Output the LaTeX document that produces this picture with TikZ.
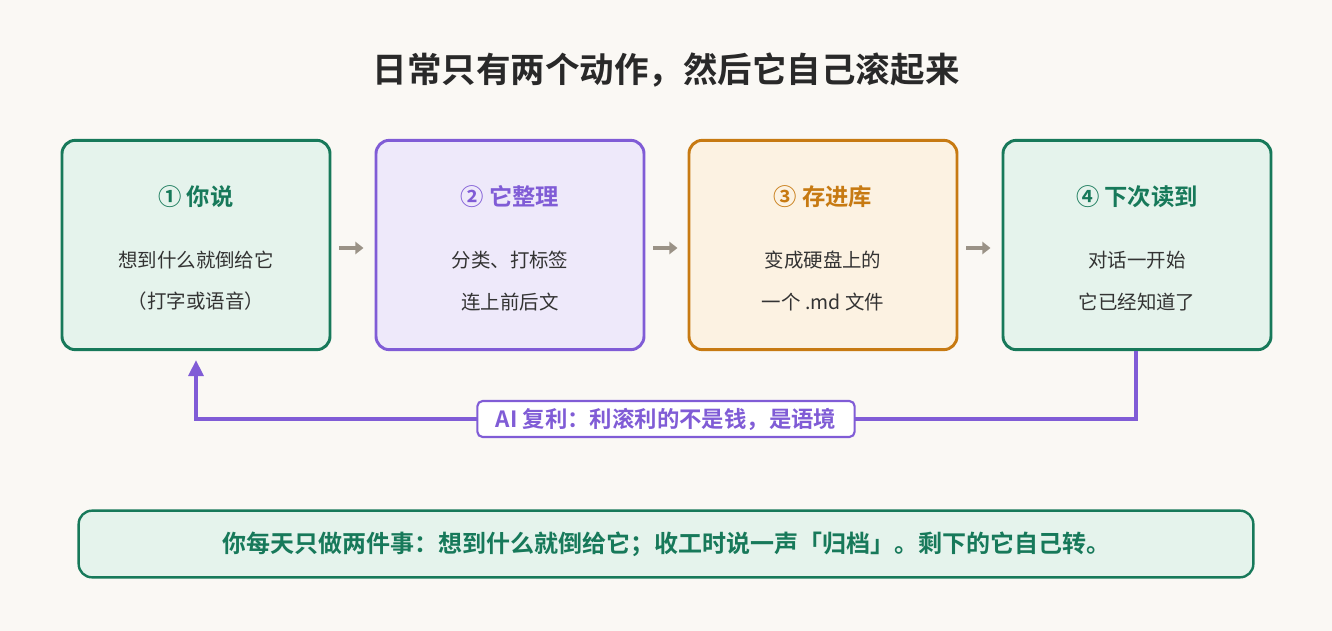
\documentclass[tikz,border=0pt]{standalone}
\usepackage{fontspec}
\setmainfont{Noto Sans CJK SC}[BoldFont={* Bold}]
\usetikzlibrary{arrows.meta,positioning}
\definecolor{bg}{HTML}{FAF8F4}
\definecolor{gline}{HTML}{17795A}
\definecolor{gfill}{HTML}{E5F3EC}
\definecolor{pline}{HTML}{805CD6}
\definecolor{pfill}{HTML}{EEE9FA}
\definecolor{oline}{HTML}{C77A12}
\definecolor{ofill}{HTML}{FCF2E2}
\definecolor{txt}{HTML}{333333}
\definecolor{arr}{HTML}{9A9286}
\tikzset{
    stage/.style = {rounded corners=10pt, line width=2.2pt, minimum width=201pt, minimum height=157pt},
    head/.style = {font=\fontsize{17.5}{20}\selectfont\bfseries},
    body/.style = {font=\fontsize{14.6}{31}\selectfont, text=txt, align=center},
    flow/.style = {-{Triangle[length=6pt,width=9pt]}, line width=3pt, arr}
}
\begin{document}
\begin{tikzpicture}[x=0.75pt,y=-0.75pt]
\fill[bg] (0,0) rectangle (1332,631);
\useasboundingbox (0,0) rectangle (1332,631);
\node[font=\fontsize{25.9}{30}\selectfont\bfseries, text=txt!80!black] (title) at (666,70) {日常只有两个动作，然后它自己滚起来};
% four stages
\node[stage, draw=gline, fill=gfill] (s1) at (196,245) {};
\node[stage, draw=pline, fill=pfill] (s2) at (510,245) {};
\node[stage, draw=oline, fill=ofill] (s3) at (823,245) {};
\node[stage, draw=gline, fill=gfill] (s4) at (1137,245) {};
\node[head, text=gline] at (196,197) {① 你说};
\node[head, text=pline] at (510,197) {② 它整理};
\node[head, text=oline] at (823,197) {③ 存进库};
\node[head, text=gline] at (1137,197) {④ 下次读到};
\node[body] at (196,281) {想到什么就倒给它\\（打字或语音）};
\node[body] at (510,281) {分类、打标签\\连上前后文};
\node[body] at (823,281) {变成硬盘上的\\一个 .md 文件};
\node[body] at (1137,281) {对话一开始\\它已经知道了};
\draw[flow] ([xshift=6pt]s1.east |- 0,248) -- ++(18pt,0);
\draw[flow] ([xshift=6pt]s2.east |- 0,248) -- ++(18pt,0);
\draw[flow] ([xshift=6pt]s3.east |- 0,248) -- ++(18pt,0);
% feedback loop
\coordinate (c1) at (1136,419);
\coordinate (c2) at (196,419);
\coordinate (c3) at (196,360);
\draw[pline, line width=3pt, -{Triangle[length=12pt,width=11pt]}] (s4.south -| c1) -- (c1) -- (c2) -- (c3);
\node[draw=pline, fill=white, line width=1.6pt, rounded corners=4pt, minimum width=283pt, minimum height=27pt,
      text=pline, font=\fontsize{16.8}{18}\selectfont\bfseries] (loop) at (666,419) {AI 复利：利滚利的不是钱，是语境};
% summary
\node[draw=gline, fill=gfill, line width=1.8pt, rounded corners=10pt, minimum width=881pt, minimum height=50pt,
      text=gline, font=\fontsize{18}{20}\selectfont\bfseries] (sum) at (666,544) {你每天只做两件事：想到什么就倒给它；收工时说一声「归档」。剩下的它自己转。};
\end{tikzpicture}
\end{document}
